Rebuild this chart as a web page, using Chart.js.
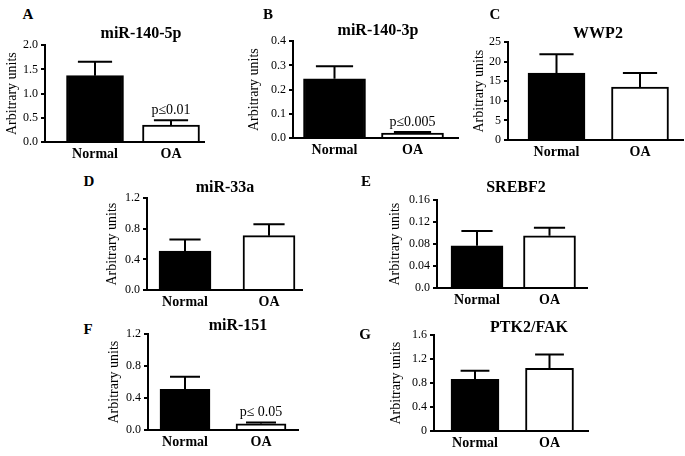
<!DOCTYPE html>
<html>
<head>
<meta charset="utf-8">
<script src="https://cdn.jsdelivr.net/npm/chart.js@4.4.0/dist/chart.umd.min.js"></script>
<style>
  body { margin: 0; background: #fff; }
  #fig { position: relative; width: 685px; height: 456px; overflow: hidden; background: #fff; }
  #fig canvas { position: absolute; }
  .lbl { position: absolute; transform: translate(-50%, -50%); line-height: 1; white-space: nowrap;
         font-family: "Liberation Serif", "Times New Roman", serif; font-weight: bold; color: #000; }
  .letter { font-size: 15px; }
  .title { font-size: 16px; }
</style>
</head>
<body>
<div id="fig"></div>
<script>
// data
const groups = ['Normal', 'OA'];
const panelLetters = ['A', 'B', 'C', 'D', 'E', 'F', 'G'];
const panelTitles = ['miR-140-5p', 'miR-140-3p', 'WWP2', 'miR-33a', 'SREBF2', 'miR-151', 'PTK2/FAK'];
const normalMeans = [1.37, 0.245, 17.1, 0.51, 0.077, 0.51, 0.865];
const normalUpper = [1.66, 0.297, 21.9, 0.66, 0.104, 0.667, 1.005];
const oaMeans = [0.35, 0.02, 13.5, 0.71, 0.095, 0.077, 1.045];
const oaUpper = [0.45, 0.025, 17.1, 0.86, 0.110, 0.093, 1.278];
const pLabels = ['p≤0.01', 'p≤0.005', '', '', '', 'p≤ 0.05', ''];
const yMaxes = [2.0, 0.4, 25, 1.2, 0.16, 1.2, 1.6];
const ySteps = [0.5, 0.1, 5, 0.4, 0.04, 0.4, 0.4];
const yTickLabels = [
    ['0.0', '0.5', '1.0', '1.5', '2.0'],
    ['0.0', '0.1', '0.2', '0.3', '0.4'],
    ['0', '5', '10', '15', '20', '25'],
    ['0.0', '0.4', '0.8', '1.2'],
    ['0.0', '0.04', '0.08', '0.12', '0.16'],
    ['0.0', '0.4', '0.8', '1.2'],
    ['0', '0.4', '0.8', '1.2', '1.6']
];
const yTitle = 'Arbitrary units';

// page layout of each panel (pixels)
const layout = [
    { x0: 45,  x1: 204, top: 43,  bottom: 142, c0: 95,    c1: 171,   bar: 57, yw: 41 },
    { x0: 293, x1: 458, top: 39,  bottom: 138, c0: 334.5, c1: 412.5, bar: 62, yw: 47 },
    { x0: 508, x1: 683, top: 40,  bottom: 140, c0: 556.5, c1: 640,   bar: 57, yw: 37 },
    { x0: 147, x1: 302, top: 196, bottom: 290, c0: 185,   c1: 269,   bar: 52, yw: 43 },
    { x0: 437, x1: 587, top: 198, bottom: 288, c0: 477,   c1: 549.5, bar: 52, yw: 50 },
    { x0: 148, x1: 298, top: 332, bottom: 430, c0: 185,   c1: 261,   bar: 50, yw: 42 },
    { x0: 434, x1: 588, top: 333, bottom: 431, c0: 475,   c1: 549.5, bar: 48, yw: 46 }
];
const titlePos = [[141, 33], [378, 30], [598, 33], [225, 187], [516, 187], [238, 325], [529, 327]];
const letterPos = [[28, 14], [268, 14], [495, 14], [89, 181], [366, 181], [88, 329], [365, 334]];

const serif = '"Liberation Serif", "Times New Roman", serif';
const padTop = 8, padRight = 3, xHeight = 26;

const errorBars = {
    id: 'errorBars',
    afterDatasetsDraw(chart, args, opts) {
        const ctx = chart.ctx;
        const y = chart.scales.y;
        const meta = chart.getDatasetMeta(0);
        ctx.save();
        ctx.strokeStyle = '#000';
        ctx.lineWidth = 2;
        meta.data.forEach((bar, i) => {
            const top = y.getPixelForValue(opts.upper[i]);
            const half = bar.width * 0.3;
            ctx.beginPath();
            ctx.moveTo(bar.x, bar.y);
            ctx.lineTo(bar.x, top);
            ctx.moveTo(bar.x - half, top);
            ctx.lineTo(bar.x + half, top);
            ctx.stroke();
            if (i === 1 && opts.pText) {
                ctx.fillStyle = '#000';
                ctx.font = '14px ' + serif;
                ctx.textAlign = 'center';
                ctx.textBaseline = 'bottom';
                ctx.fillText(opts.pText, bar.x, top - 3);
            }
        });
        ctx.restore();
    }
};

const fig = document.getElementById('fig');

function addLabel(text, pos, cls) {
    const d = document.createElement('div');
    d.className = 'lbl ' + cls;
    d.textContent = text;
    d.style.left = pos[0] + 'px';
    d.style.top = pos[1] + 'px';
    fig.appendChild(d);
}

function drawPanel(p) {
    const L = layout[p];
    const left = L.x0 - L.yw;
    const top = L.top - padTop;
    const width = L.x1 - left + padRight;
    const height = L.bottom - top + xHeight;
    const canvas = document.createElement('canvas');
    canvas.width = width;
    canvas.height = height;
    canvas.style.left = left + 'px';
    canvas.style.top = top + 'px';
    canvas.style.width = width + 'px';
    canvas.style.height = height + 'px';
    fig.appendChild(canvas);

    const spacing = L.c1 - L.c0;
    const means = [normalMeans[p], oaMeans[p]];
    const upper = [normalUpper[p], oaUpper[p]];

    new Chart(canvas, {
        type: 'bar',
        data: {
            datasets: [{
                data: groups.map((g, i) => ({ x: i, y: means[i] })),
                backgroundColor: ['#000', '#fff'],
                borderColor: '#000',
                borderWidth: 2,
                barThickness: L.bar
            }]
        },
        options: {
            responsive: false,
            animation: false,
            devicePixelRatio: 1,
            layout: { padding: { top: padTop, right: padRight, left: 0, bottom: 0 } },
            plugins: {
                legend: { display: false },
                tooltip: { enabled: false },
                errorBars: { upper: upper, pText: pLabels[p] }
            },
            scales: {
                x: {
                    type: 'linear',
                    offset: false,
                    min: -(L.c0 - L.x0) / spacing,
                    max: 1 + (L.x1 - L.c1) / spacing,
                    afterBuildTicks: axis => { axis.ticks = groups.map((g, i) => ({ value: i })); },
                    afterFit: axis => { axis.height = xHeight; },
                    grid: { display: false, drawTicks: false, tickLength: 0 },
                    border: { display: true, color: '#000', width: 2 },
                    ticks: {
                        callback: v => groups[v],
                        color: '#000',
                        padding: 4,
                        maxRotation: 0,
                        autoSkip: false,
                        font: { family: serif, size: 14, weight: 'bold' }
                    }
                },
                y: {
                    min: 0,
                    max: yMaxes[p],
                    afterFit: axis => { axis.width = L.yw; },
                    grid: { drawOnChartArea: false, drawTicks: true, tickLength: 4, color: '#000', lineWidth: 2 },
                    border: { display: true, color: '#000', width: 2 },
                    ticks: {
                        stepSize: ySteps[p],
                        callback: (v, i) => yTickLabels[p][i],
                        color: '#000',
                        padding: 3,
                        font: { family: serif, size: 12 }
                    },
                    title: {
                        display: true,
                        text: yTitle,
                        color: '#000',
                        padding: 0,
                        font: { family: serif, size: 14 }
                    }
                }
            }
        },
        plugins: [errorBars]
    });

    addLabel(panelLetters[p], letterPos[p], 'letter');
    addLabel(panelTitles[p], titlePos[p], 'title');
}

for (let p = 0; p < layout.length; p++) {
    drawPanel(p);
}
</script>
</body>
</html>
